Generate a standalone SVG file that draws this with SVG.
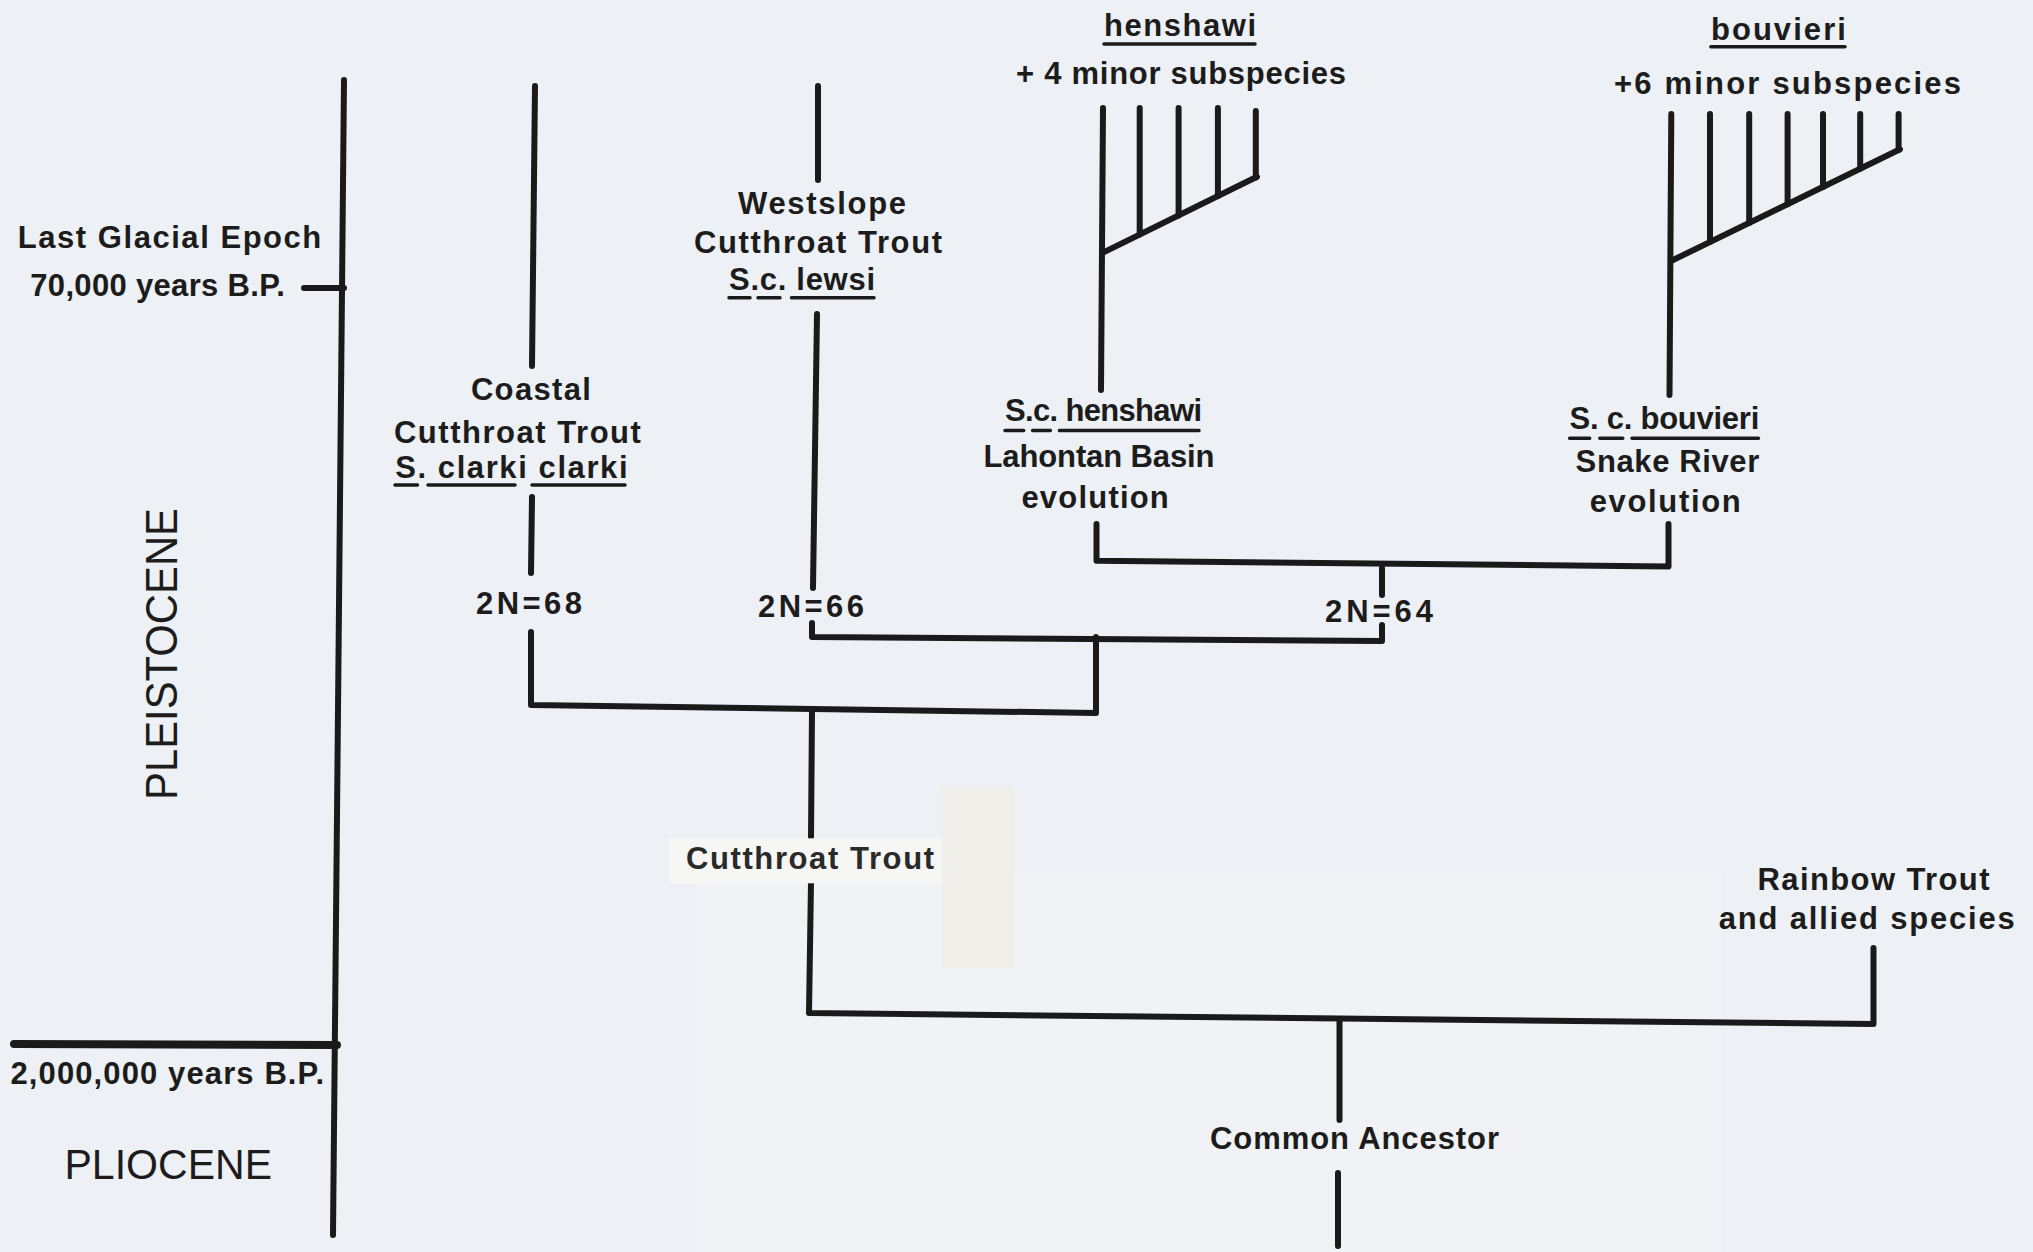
<svg xmlns="http://www.w3.org/2000/svg" width="2033" height="1252" viewBox="0 0 2033 1252">
<style>
.t{font-family:"Liberation Sans",Arial,sans-serif;font-weight:bold;font-size:31px;fill:#1c1c1c}
.ep{font-family:"Liberation Sans",Arial,sans-serif;font-weight:normal;fill:#1c1c1c}
.ln{stroke:#1a1a1a;stroke-width:6;stroke-linecap:round;stroke-linejoin:round;fill:none}
.ul{stroke:#1a1a1a;stroke-width:3.5;stroke-linecap:round;fill:none}
</style>
<rect x="0" y="0" width="2033" height="1252" fill="#edf0f4"/>
<rect x="696" y="872" width="1025" height="380" fill="#f0f2f5"/>

<g id="connectors">
  <path class="ln" d="M344 80 L333 1235"/>
  <path class="ln" d="M304 288 L344 288"/>
  <path class="ln" d="M14 1044 L337 1045" style="stroke-width:8"/>
  <path class="ln" d="M535 86 L532 366"/>
  <path class="ln" d="M532 497 L531 573"/>
  <path class="ln" d="M531 632 L531 705 L1096 713 L1096 637"/>
  <path class="ln" d="M818 86 L818 180"/>
  <path class="ln" d="M817 314 L813 588"/>
  <path class="ln" d="M812 623 L812 637 L1382 641 L1382 625"/>
  <path class="ln" d="M1382 568 L1382 595"/>
  <path class="ln" d="M1096.5 524 L1096.5 560.7 L1668.5 566.5 L1668.5 524"/>
  <path class="ln" d="M812 710 L811 837"/>
  <path class="ln" d="M811 882 L809 1013 L1873.5 1024 L1873.5 948"/>
  <path class="ln" d="M1339.5 1020 L1339.5 1120"/>
  <path class="ln" d="M1338 1173 L1338 1246"/>
  <path class="ln" d="M1103 108 L1101 390"/>
  <path class="ln" d="M1103 252.6 L1257 176.8"/>
  <path class="ln" d="M1139.7 108 L1139.7 234.5 M1178.6 108 L1178.6 215.4 M1217.9 108 L1217.9 196 M1255.8 111 L1255.8 177.4"/>
  <path class="ln" d="M1671.3 114 L1669.5 395"/>
  <path class="ln" d="M1671 261 L1900 149.3"/>
  <path class="ln" d="M1710 114 L1710 242 M1749.2 114 L1749.2 222.9 M1787.6 114 L1787.6 204.2 M1823 114 L1823 186.9 M1860.2 114 L1860.2 168.7 M1898.6 114 L1898.6 150"/>
</g>

<g id="epoch-last-glacial">
  <text class="t" x="17.8" y="248" textLength="303.5" lengthAdjust="spacing">Last Glacial Epoch</text>
  <text class="t" x="30.3" y="296" textLength="254.5" lengthAdjust="spacing">70,000 years B.P.</text>
</g>
<g id="epoch-2m">
  <text class="t" x="10.5" y="1083.7" textLength="313.5" lengthAdjust="spacing">2,000,000 years B.P.</text>
</g>
<g id="pliocene">
  <text class="ep" x="64.5" y="1179" font-size="42" textLength="207.5" lengthAdjust="spacingAndGlyphs">PLIOCENE</text>
</g>
<g id="pleistocene">
  <text class="ep" x="176.7" y="800" font-size="45" textLength="292" lengthAdjust="spacingAndGlyphs" transform="rotate(-90 176.7 800)">PLEISTOCENE</text>
</g>

<g id="coastal">
  <text class="t" x="470.9" y="400" textLength="120" lengthAdjust="spacing">Coastal</text>
  <text class="t" x="393.9" y="442.7" textLength="247" lengthAdjust="spacing">Cutthroat Trout</text>
  <text class="t" x="395.2" y="478.3" textLength="232.3" lengthAdjust="spacing">S. clarki clarki</text>
  <path class="ul" d="M395 485 L417.5 485 M428 485 L515 485 M532 485 L625 485"/>
</g>
<g id="n68">
  <text class="t" x="476" y="614" textLength="106" lengthAdjust="spacing">2N=68</text>
</g>

<g id="westslope">
  <text class="t" x="738" y="213.5" textLength="168" lengthAdjust="spacing">Westslope</text>
  <text class="t" x="694" y="253.3" textLength="248" lengthAdjust="spacing">Cutthroat Trout</text>
  <text class="t" x="729" y="290" textLength="146" lengthAdjust="spacing">S.c. lewsi</text>
  <path class="ul" d="M729 297.7 L750 297.7 M758 297.7 L780 297.7 M791.5 297.7 L874 297.7"/>
</g>
<g id="n66">
  <text class="t" x="758" y="616.7" textLength="106" lengthAdjust="spacing">2N=66</text>
</g>

<g id="henshawi-group">
  <text class="t" x="1104" y="36.4" textLength="152" lengthAdjust="spacing">henshawi</text>
  <path class="ul" d="M1104 44 L1255 44"/>
  <text class="t" x="1016" y="84.2" textLength="330" lengthAdjust="spacing">+ 4 minor subspecies</text>
</g>
<g id="lahontan">
  <text class="t" x="1005" y="421" textLength="197" lengthAdjust="spacing">S.c. henshawi</text>
  <path class="ul" d="M1005 430.5 L1023.7 430.5 M1032.6 430.5 L1050.4 430.5 M1059.4 430.5 L1199 430.5"/>
  <text class="t" x="983.5" y="467" textLength="231" lengthAdjust="spacing">Lahontan Basin</text>
  <text class="t" x="1021.4" y="507.8" textLength="147.4" lengthAdjust="spacing">evolution</text>
</g>

<g id="bouvieri-group">
  <text class="t" x="1710.9" y="40.2" textLength="135" lengthAdjust="spacing">bouvieri</text>
  <path class="ul" d="M1710.9 46.7 L1845 46.7"/>
  <text class="t" x="1614" y="93.8" textLength="347" lengthAdjust="spacing">+6 minor subspecies</text>
</g>
<g id="snake">
  <text class="t" x="1569.6" y="428.6" textLength="189.7" lengthAdjust="spacing">S. c. bouvieri</text>
  <path class="ul" d="M1569.6 438.2 L1589.7 438.2 M1599.8 438.2 L1622.8 438.2 M1632 438.2 L1758.5 438.2"/>
  <text class="t" x="1575.6" y="471.5" textLength="183.7" lengthAdjust="spacing">Snake River</text>
  <text class="t" x="1589.7" y="511.7" textLength="151" lengthAdjust="spacing">evolution</text>
</g>
<g id="n64">
  <text class="t" x="1325" y="621.7" textLength="108" lengthAdjust="spacing">2N=64</text>
</g>

<g id="cutthroat">
  <rect x="669.3" y="838.3" width="272.4" height="45" fill="#f6f6f4"/>
  <rect x="941.7" y="788.3" width="71.6" height="180" fill="#efeee8"/>
  <text class="t" x="686" y="869.3" textLength="248" lengthAdjust="spacing" style="fill:#2a2a2a">Cutthroat Trout</text>
</g>

<g id="rainbow">
  <text class="t" x="1757.5" y="889.8" textLength="232" lengthAdjust="spacing">Rainbow Trout</text>
  <text class="t" x="1718.8" y="928.5" textLength="296" lengthAdjust="spacing">and allied species</text>
</g>

<g id="common-ancestor">
  <text class="t" x="1210" y="1148.9" textLength="289" lengthAdjust="spacing">Common Ancestor</text>
</g>
</svg>
